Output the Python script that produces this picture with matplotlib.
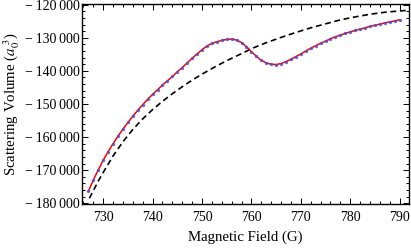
import matplotlib
matplotlib.use("Agg")
import matplotlib.pyplot as plt
from matplotlib.ticker import MultipleLocator, FuncFormatter

plt.rcParams['font.family'] = ['Liberation Serif', 'DejaVu Serif']
plt.rcParams['mathtext.fontset'] = 'stix'

# measured points (G, a0^3)
field = list(range(727, 791))
volume = [-176400, -173000, -169900, -167000, -164400, -162000, -159700, -157600,
          -155600, -153700, -151900, -150200, -148600, -147100, -145700, -144300,
          -143000, -141700, -140300, -139000, -137600, -136200, -134900, -133600,
          -132500, -131700, -131200, -130800, -130500, -130400, -130700, -131500,
          -132700, -134200, -135600, -136800, -137600, -138000, -138100, -137800,
          -137200, -136500, -135700, -134900, -134000, -133200, -132400, -131700,
          -131000, -130300, -129700, -129200, -128700, -128200, -127800, -127400,
          -127000, -126600, -126200, -125900, -125500, -125200, -124900, -124600]

# background (no resonance), dashed
bg_field = [727.2, 728, 729, 730, 732, 734, 736, 738, 740, 742, 744, 746, 748,
            750, 752, 754, 756, 758, 760, 763, 766, 769, 772, 775, 778, 781,
            784, 787, 790, 791.8]
bg_volume = [-178500, -176200, -173300, -170700, -165700, -161400, -157700,
             -154500, -151700, -149200, -146900, -144800, -142800, -141000,
             -139300, -137700, -136200, -134800, -133300, -131500, -129900,
             -128400, -127000, -125800, -124600, -123700, -122900, -122300,
             -121900, -121700]

fig = plt.figure(figsize=(4.11, 2.49), dpi=100)
ax = fig.add_axes([0.200, 0.181, 0.794, 0.803])

ax.plot(bg_field, bg_volume, color='black', lw=1.2, dashes=(3.5, 2.2))
ax.plot(field, volume, color='red', lw=1.1)
ax.plot(field, volume, ls='none', marker='o', ms=2.4, mew=0,
        color='#4f4fc8', alpha=0.85)

ax.set_xlim(725.75, 791.8)
ax.set_ylim(-180200, -119800)

ax.xaxis.set_major_locator(MultipleLocator(10))
ax.xaxis.set_minor_locator(MultipleLocator(2))
ax.yaxis.set_major_locator(MultipleLocator(10000))
ax.yaxis.set_minor_locator(MultipleLocator(2000))


def fmt(v, pos):
    s = '{:,.0f}'.format(abs(v)).replace(',', '\u2009')
    return ('\u2212\u2009' if v < 0 else '') + s


ax.yaxis.set_major_formatter(FuncFormatter(fmt))
ax.tick_params(which='both', direction='in', top=True, right=True,
               labelsize=10, width=0.7)
ax.tick_params(axis='x', pad=5)
ax.tick_params(axis='y', pad=2)
ax.tick_params(which='major', length=4)
ax.tick_params(which='minor', length=2)
for s in ax.spines.values():
    s.set_linewidth(1.0)

ax.set_xlabel('Magnetic Field (G)', fontsize=10.7, labelpad=5)
ax.set_ylabel('Scattering Volume ($a_0^{\\ 3}$)', fontsize=10.7, labelpad=2)

fig.savefig('out.png', dpi=100)
